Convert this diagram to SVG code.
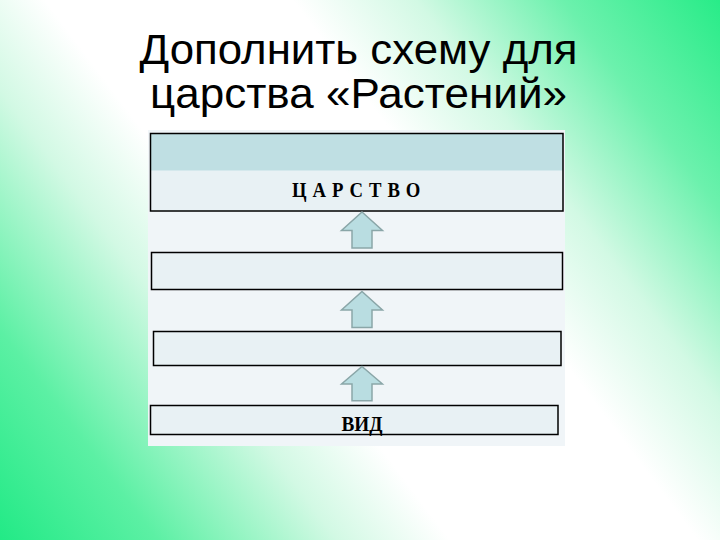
<svg xmlns="http://www.w3.org/2000/svg" width="720" height="540" viewBox="0 0 720 540">
  <defs>
    <linearGradient id="bg" gradientUnits="userSpaceOnUse" x1="0" y1="540" x2="720" y2="0">
      <stop offset="0" stop-color="#22ea86"/>
      <stop offset="0.14" stop-color="#5cf0a4"/>
      <stop offset="0.3" stop-color="#d2f9e4"/>
      <stop offset="0.4" stop-color="#ffffff"/>
      <stop offset="0.62" stop-color="#ffffff"/>
      <stop offset="0.73" stop-color="#d2f9e4"/>
      <stop offset="0.86" stop-color="#6cf1ad"/>
      <stop offset="1" stop-color="#28ec88"/>
    </linearGradient>
    <path id="arrow" d="M0,0 L20.5,18.5 L10,18.5 L10,36 L-10,36 L-10,18.5 L-20.5,18.5 Z"/>
  </defs>
  <style>
    .title { font-family: "Liberation Sans", Arial, sans-serif; font-size: 43px; fill: #000; text-anchor: middle; }
    .box { fill: #e8f1f4; stroke: #000; stroke-width: 1.5; }
    .lbl { font-family: "Liberation Serif", "Times New Roman", serif; font-weight: bold; font-size: 22px; fill: #000; }
    .arr { fill: #b9dde1; stroke: #8aa6a8; stroke-width: 1.5; stroke-linejoin: miter; }
  </style>
  <rect x="0" y="0" width="720" height="540" fill="url(#bg)"/>
  <g id="title">
    <text class="title" x="358.5" y="63.5" textLength="438" lengthAdjust="spacingAndGlyphs">Дополнить схему для</text>
    <text class="title" x="358.5" y="108" textLength="417" lengthAdjust="spacingAndGlyphs">царства «Растений»</text>
  </g>
  <rect id="panel" x="148" y="130" width="417" height="316" fill="#f0f5f8"/>
  <g id="kingdom">
    <rect x="150.5" y="133.5" width="412.5" height="77.5" fill="#e8f1f4"/>
    <rect x="150.5" y="133.5" width="412.5" height="37" fill="#bfdfe3"/>
    <rect x="150.5" y="133.5" width="412.5" height="77.5" fill="none" stroke="#000" stroke-width="1.5"/>
    <text class="lbl" transform="translate(292,197) scale(0.85,1)" letter-spacing="7">ЦАРСТВО</text>
  </g>
  <g id="level2">
    <rect class="box" x="151.5" y="252.5" width="411" height="37"/>
  </g>
  <g id="level3">
    <rect class="box" x="153.5" y="331.5" width="407.5" height="34"/>
  </g>
  <g id="species">
    <rect class="box" x="150.5" y="405.5" width="407.5" height="29"/>
    <text class="lbl" x="362" y="431" text-anchor="middle" textLength="41" lengthAdjust="spacingAndGlyphs">ВИД</text>
  </g>
  <g id="connectors">
    <use href="#arrow" class="arr" transform="translate(362,212)"/>
    <use href="#arrow" class="arr" transform="translate(362,291.5)"/>
    <use href="#arrow" class="arr" transform="translate(362,366.5) scale(1,0.95)"/>
  </g>
</svg>
